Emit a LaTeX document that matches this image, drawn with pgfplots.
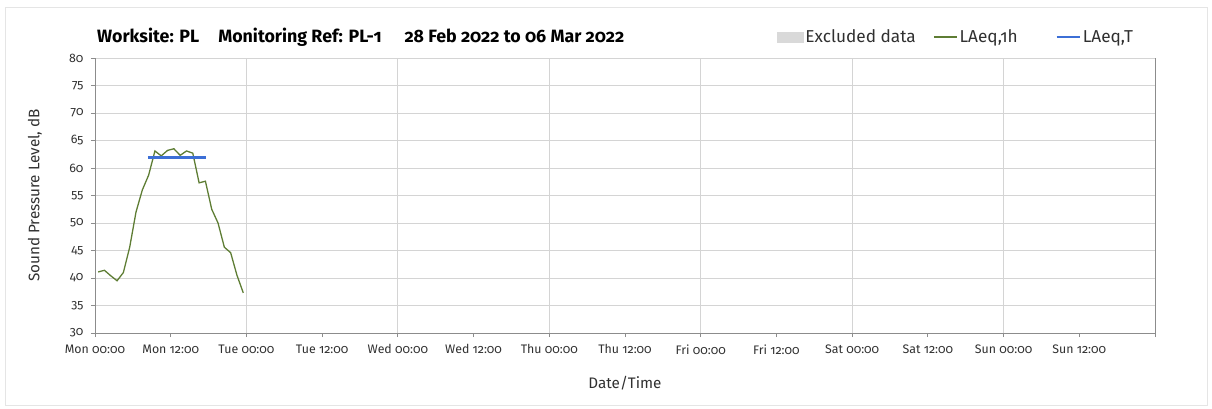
\documentclass[border=0pt]{standalone}
\usepackage{fontspec}
\setmainfont{Fira Sans}[Numbers=OldStyle]
\usepackage{pgfplots}
\pgfplotsset{compat=1.18}
\definecolor{lgreen}{HTML}{5E7D34}
\definecolor{lblue}{HTML}{3C6FD6}
\definecolor{gridc}{HTML}{D4D4D4}
\definecolor{axc}{HTML}{8C8C8C}
\definecolor{txt}{HTML}{303030}
\begin{document}
\begin{tikzpicture}
\path[use as bounding box] (-95bp,-76bp) rectangle (1117bp,333bp);
\draw[gray!20] (-90bp,-72bp) rectangle (1112bp,326bp);
\begin{axis}[
  at={(0,0)}, anchor=south west,
  scale only axis, width=1060bp, height=275bp,
  xmin=0, xmax=168, ymin=30, ymax=80,
  xtick={0,12,...,168},
  xticklabels={Mon 00:00, Mon 12:00, Tue 00:00, Tue 12:00, Wed 00:00, Wed 12:00, Thu 00:00, Thu 12:00, Fri 00:00, Fri 12:00, Sat 00:00, Sat 12:00, Sun 00:00, Sun 12:00, {}},
  ytick={30,35,...,80},
  ymajorgrids, grid style={gridc, line width=0.8pt},
  extra x ticks={24,48,72,96,120,144},
  extra x tick labels={},
  extra x tick style={grid=major, major tick length=0pt},
  axis x line*=bottom, axis y line*=left,
  axis line style={axc, line width=0.8pt, -},
  tick style={axc, line width=0.8pt},
  tick align=outside, major tick length=4bp,
  tick label style={font=\fontsize{12.4}{14}\selectfont, text=txt},
  xticklabel style={yshift=-4bp},
  yticklabel style={xshift=-4bp},
  /pgf/number format/assume math mode=true,
  xlabel={Date/Time}, ylabel={Sound Pressure Level, dB},
  label style={font=\fontsize{15.3}{17}\selectfont, text=txt},
  xlabel style={at={(axis description cs:0.5,-0.182)}, anchor=center},
  ylabel style={at={(axis description cs:-0.0566,0.5)}, anchor=center},
  legend columns=3,
  legend style={draw=none, fill=none, at={(axis description cs:0.9953,1.076)}, anchor=east,
    font=\fontsize{17.3}{19}\selectfont, text=txt,
    nodes={inner xsep=2bp},
    /tikz/every even column/.style={column sep=18bp}},
  clip=false,
]
\addlegendimage{legend image code/.code={\fill[gray!30] (0bp,-5bp) rectangle (26bp,5bp);}}
\addlegendentry{\makebox[108bp][l]{Excluded data}}
\addplot[lgreen, line width=1.3pt, legend image code/.code={\draw (0bp,0bp)--(23bp,0bp);}] coordinates {
(0.5,41.1) (1.5,41.4) (2.5,40.4) (3.5,39.5) (4.5,41.0) (5.5,45.6) (6.5,52.0)
(7.5,56.0) (8.5,58.7) (9.5,63.1) (10.5,62.2) (11.5,63.2) (12.5,63.5) (13.5,62.3)
(14.5,63.1) (15.5,62.7) (16.5,57.3) (17.5,57.6) (18.5,52.5) (19.5,50.0)
(20.5,45.6) (21.5,44.6) (22.5,40.5) (23.5,37.3)};
\addlegendentry{\makebox[76bp][l]{LAeq,1h}}
\addplot[lblue, line width=2.2pt, legend image code/.code={\draw (0bp,0bp)--(23bp,0bp);}] coordinates {(8.4,61.9) (17.6,61.9)};
\addlegendentry{\makebox[62bp][l]{LAeq,T}}
\draw[axc, line width=0.8pt] (axis cs:168,30) -- (axis cs:168,80);
\end{axis}
\node[anchor=west, font=\bfseries\fontsize{17.9}{19}\selectfont, inner sep=0pt] at (2bp,296bp)
  {Worksite: PL\hspace{19bp}Monitoring Ref: PL-1\hspace{23bp}28 Feb 2022 to 06 Mar 2022};
\end{tikzpicture}
\end{document}
